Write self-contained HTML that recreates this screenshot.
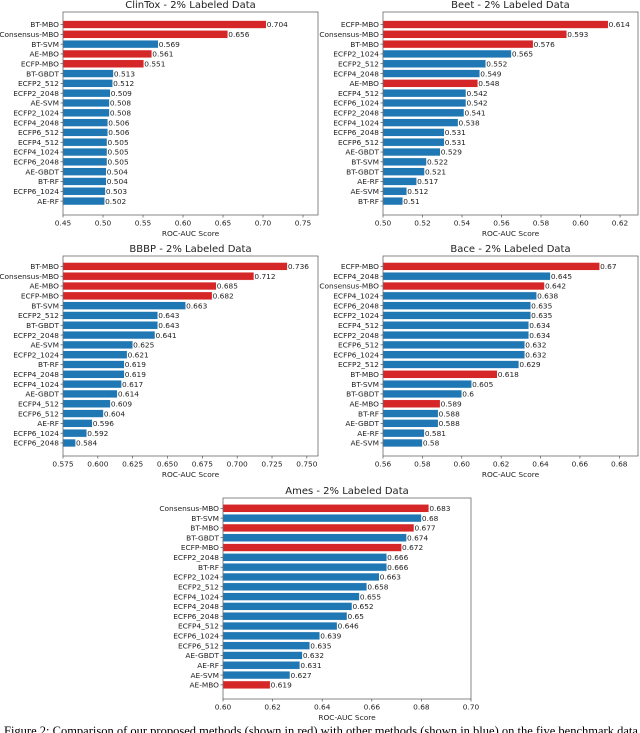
<!DOCTYPE html>
<html><head><meta charset="utf-8"><style>
html,body{margin:0;padding:0;background:#fff;width:640px;height:733px;overflow:hidden;position:relative}
svg{position:absolute;left:0;top:0}
text{font-family:"DejaVu Sans","Liberation Sans",sans-serif}
#cap{position:absolute;left:4px;top:724px;font-family:"Liberation Serif",serif;font-size:12.5px;white-space:nowrap;color:#000}
</style></head><body>
<svg id="chart" width="640" height="733"></svg>
<div id="cap">Figure 2: Comparison of our proposed methods (shown in red) with other methods (shown in blue) on the five benchmark data sets</div>
<script>
const clintoxLabels=["BT-MBO","Consensus-MBO","BT-SVM","AE-MBO","ECFP-MBO","BT-GBDT","ECFP2_512","ECFP2_2048","AE-SVM","ECFP2_1024","ECFP4_2048","ECFP6_512","ECFP4_512","ECFP4_1024","ECFP6_2048","AE-GBDT","BT-RF","ECFP6_1024","AE-RF"];
const clintoxValues=[0.704,0.656,0.569,0.561,0.551,0.513,0.512,0.509,0.508,0.508,0.506,0.506,0.505,0.505,0.505,0.504,0.504,0.503,0.502];
const clintoxTicks=["0.45","0.50","0.55","0.60","0.65","0.70","0.75"];
const beetLabels=["ECFP-MBO","Consensus-MBO","BT-MBO","ECFP2_1024","ECFP2_512","ECFP4_2048","AE-MBO","ECFP4_512","ECFP6_1024","ECFP2_2048","ECFP4_1024","ECFP6_2048","ECFP6_512","AE-GBDT","BT-SVM","BT-GBDT","AE-RF","AE-SVM","BT-RF"];
const beetValues=[0.614,0.593,0.576,0.565,0.552,0.549,0.548,0.542,0.542,0.541,0.538,0.531,0.531,0.529,0.522,0.521,0.517,0.512,0.51];
const beetTicks=["0.50","0.52","0.54","0.56","0.58","0.60","0.62"];
const bbbpLabels=["BT-MBO","Consensus-MBO","AE-MBO","ECFP-MBO","BT-SVM","ECFP2_512","BT-GBDT","ECFP2_2048","AE-SVM","ECFP2_1024","BT-RF","ECFP4_2048","ECFP4_1024","AE-GBDT","ECFP4_512","ECFP6_512","AE-RF","ECFP6_1024","ECFP6_2048"];
const bbbpValues=[0.736,0.712,0.685,0.682,0.663,0.643,0.643,0.641,0.625,0.621,0.619,0.619,0.617,0.614,0.609,0.604,0.596,0.592,0.584];
const bbbpTicks=["0.575","0.600","0.625","0.650","0.675","0.700","0.725","0.750"];
const baceLabels=["ECFP-MBO","ECFP4_2048","Consensus-MBO","ECFP4_1024","ECFP6_2048","ECFP2_1024","ECFP4_512","ECFP2_2048","ECFP6_512","ECFP6_1024","ECFP2_512","BT-MBO","BT-SVM","BT-GBDT","AE-MBO","BT-RF","AE-GBDT","AE-RF","AE-SVM"];
const baceValues=[0.67,0.645,0.642,0.638,0.635,0.635,0.634,0.634,0.632,0.632,0.629,0.618,0.605,0.6,0.589,0.588,0.588,0.581,0.58];
const baceTicks=["0.56","0.58","0.60","0.62","0.64","0.66","0.68"];
const amesLabels=["Consensus-MBO","BT-SVM","BT-MBO","BT-GBDT","ECFP-MBO","ECFP2_2048","BT-RF","ECFP2_1024","ECFP2_512","ECFP4_1024","ECFP4_2048","ECFP6_2048","ECFP4_512","ECFP6_1024","ECFP6_512","AE-GBDT","AE-RF","AE-SVM","AE-MBO"];
const amesValues=[0.683,0.68,0.677,0.674,0.672,0.666,0.666,0.663,0.658,0.655,0.652,0.65,0.646,0.639,0.635,0.632,0.631,0.627,0.619];
const amesTicks=["0.60","0.62","0.64","0.66","0.68","0.70"];

const NS="http://www.w3.org/2000/svg";
const svg=document.getElementById('chart');
function mk(tag,attrs,parent){const e=document.createElementNS(NS,tag);for(const k in attrs)e.setAttribute(k,attrs[k]);(parent||svg).appendChild(e);return e;}
function fmt(v){return String(+v.toFixed(3));}

function panel(key,title,labels,values,ticks,box,xmin,xmax){
  const g=mk('g',{});
  
  
  const {x0,x1,y0,y1,first}=box;
  const sx=v=>x0+(v-xmin)/(xmax-xmin)*(x1-x0);
  const pitch=9.81;
  const t=mk('text',{x:(x0+x1)/2,y:y0-4,'text-anchor':'middle','font-size':10,fill:'#222'},g);
  t.textContent=title;
  
  
  labels.forEach((lab,i)=>{
    const cy=first+i*pitch, v=values[i];
    const red=lab.indexOf('MBO')>=0;
    const r=mk('rect',{x:x0,y:cy-3.9,width:Math.max(0,sx(v)-x0),height:7.8,fill:red?'#d62728':'#1f77b4',stroke:'#fff','stroke-width':0.4},g);
    
    
    const vl=mk('text',{x:sx(v)+0.5,y:cy+2.7,'font-size':7.4,fill:'#222'},g);
    vl.textContent=fmt(v);
    
    
    const yl=mk('text',{x:x0-4,y:cy+2.7,'text-anchor':'end','font-size':7.4,fill:'#222'},g);
    yl.textContent=lab;
    
    
    mk('line',{x1:x0-2.5,x2:x0,y1:cy,y2:cy,stroke:'#333','stroke-width':0.6},g);
  });
  ticks.forEach(tk=>{
    const x=sx(parseFloat(tk));
    mk('line',{x1:x,x2:x,y1:y1,y2:y1+2.5,stroke:'#333','stroke-width':0.6},g);
    const tl=mk('text',{x:x,y:y1+10.5,'text-anchor':'middle','font-size':7.4,fill:'#222'},g);
    tl.textContent=tk;
    
    
  });
  const fr=mk('rect',{x:x0,y:y0,width:x1-x0,height:y1-y0,fill:'none',stroke:'#555','stroke-width':0.7},g);
  
  
  const xl=mk('text',{x:(x0+x1)/2,y:y1+21,'text-anchor':'middle','font-size':7.4,fill:'#222'},g);
  xl.textContent='ROC-AUC Score';
  
  
}
panel('clintox','ClinTox - 2% Labeled Data',clintoxLabels,clintoxValues,clintoxTicks,{x0:63,x1:318,y0:12,y1:215,first:24.5},0.45,0.76875);
panel('beet','Beet - 2% Labeled Data',beetLabels,beetValues,beetTicks,{x0:383,x1:638,y0:12,y1:215,first:24.5},0.50,0.6291);
panel('bbbp','BBBP - 2% Labeled Data',bbbpLabels,bbbpValues,bbbpTicks,{x0:63,x1:318,y0:256,y1:456,first:266.4},0.575,0.758);
panel('bace','Bace - 2% Labeled Data',baceLabels,baceValues,baceTicks,{x0:383,x1:638,y0:256,y1:456,first:266.4},0.56,0.6895);
panel('ames','Ames - 2% Labeled Data',amesLabels,amesValues,amesTicks,{x0:223,x1:471,y0:498,y1:699,first:508.3},0.60,0.70);
</script>
</body></html>
